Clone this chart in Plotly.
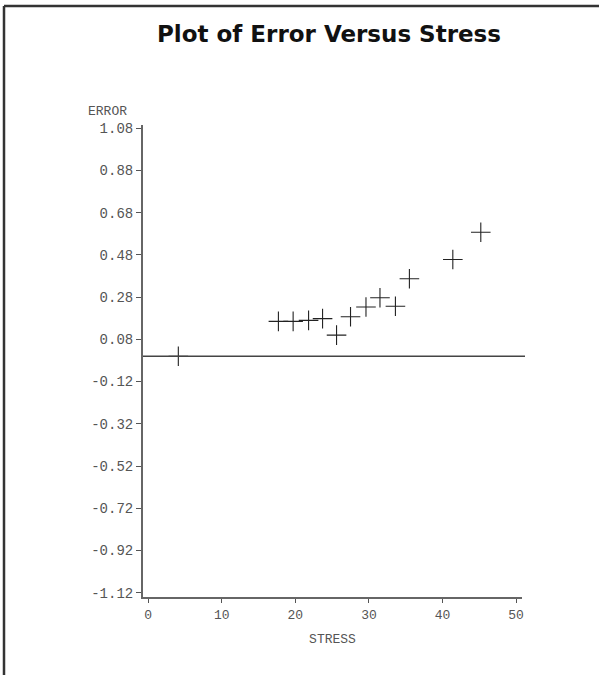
import plotly.graph_objects as go

stress = [4.1, 17.7, 19.7, 21.8, 23.7, 25.6, 27.5, 29.6, 31.5, 33.6, 35.5, 41.4, 45.2]
error = [0.00, 0.165, 0.165, 0.17, 0.178, 0.10, 0.187, 0.233, 0.277, 0.237, 0.367, 0.458, 0.587]

ytick_vals = [1.08, 0.88, 0.68, 0.48, 0.28, 0.08, -0.12, -0.32, -0.52, -0.72, -0.92, -1.12]
ytick_text = ["1.08", "0.88", "0.68", "0.48", "0.28", "0.08", "-0.12", "-0.32", "-0.52", "-0.72", "-0.92", "-1.12"]
xtick_vals = [0, 10, 20, 30, 40, 50]

W, H = 599, 675
L, R, T, B = 143, 77, 125, 78
pw, ph = W - L - R, H - T - B

def px(x):
    return (x - L) / pw

def py(y):
    return (H - B - y) / ph

mono = "Liberation Mono, DejaVu Sans Mono, monospace"
gray = "#555555"

fig = go.Figure()
fig.add_trace(go.Scatter(
    x=stress, y=error, mode="markers",
    marker=dict(symbol="cross-thin-open", size=14, line=dict(width=1.1, color="#222222"), color="#222222"),
    showlegend=False, hoverinfo="skip",
))

fig.update_layout(
    width=W, height=H,
    margin=dict(l=L, r=R, t=T, b=B),
    paper_bgcolor="white", plot_bgcolor="white",
    title=dict(text="<b>Plot of Error Versus Stress</b>", x=329 / W, xanchor="center",
               y=1 - 34 / H, yanchor="middle",
               font=dict(family="DejaVu Sans, sans-serif", size=23, color="#111111")),
    xaxis=dict(range=[-0.7, 50.8], tickvals=xtick_vals, ticks="outside", ticklen=4,
               tickcolor=gray, showline=True, linecolor="#666666", linewidth=2,
               showgrid=False, zeroline=False, mirror=False,
               tickfont=dict(family=mono, size=13, color=gray),
               title=dict(text="STRESS", font=dict(family=mono, size=13, color=gray), standoff=12)),
    yaxis=dict(range=[-1.14, 1.095], tickvals=ytick_vals, ticktext=ytick_text, ticks="outside",
               ticklen=5, tickcolor=gray, showline=True, linecolor="#666666", linewidth=2,
               showgrid=False, zeroline=False,
               tickfont=dict(family=mono, size=14, color=gray)),
)

# horizontal reference line at zero
fig.add_shape(type="line", xref="paper", yref="y", x0=0, x1=px(525), y0=0, y1=0,
              line=dict(color="#444444", width=1.5))

# y-axis label
fig.add_annotation(text="ERROR", xref="paper", yref="paper", x=px(107), y=py(112),
                   showarrow=False, xanchor="center", yanchor="middle",
                   font=dict(family=mono, size=13, color=gray))

# outer frame (top and left edges)
fig.add_shape(type="line", xref="paper", yref="paper", x0=px(4), x1=px(599), y0=py(6), y1=py(6),
              line=dict(color="#333333", width=2.5))
fig.add_shape(type="line", xref="paper", yref="paper", x0=px(4), x1=px(4), y0=py(6), y1=py(675),
              line=dict(color="#333333", width=2.5))

fig.write_html("out.html")
